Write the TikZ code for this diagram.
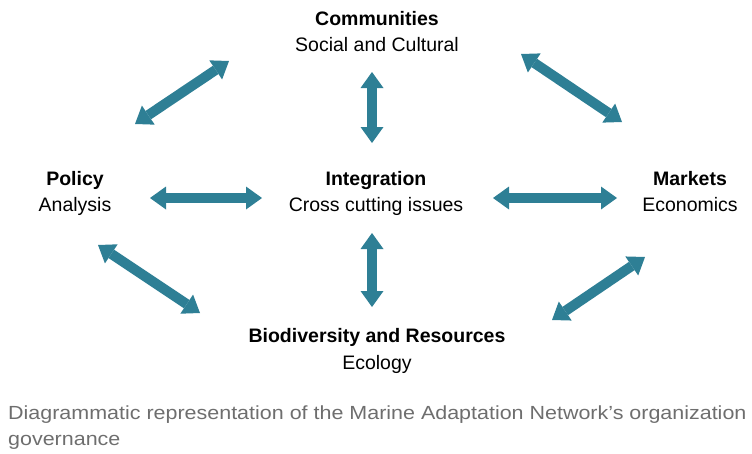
\documentclass[tikz,border=0pt]{standalone}
\usepackage{fontspec}
\setmainfont{Liberation Sans}
\newfontfamily\capfont[FakeStretch=1.13]{Liberation Sans}
\usetikzlibrary{arrows.meta}

\definecolor{arrowteal}{RGB}{46,127,149}
\definecolor{captiongray}{RGB}{110,110,110}

\tikzset{
	head/.style={anchor=base, font=\fontsize{19.5}{24}\selectfont\bfseries},
	sub/.style={anchor=base, font=\fontsize{19.5}{24}\selectfont},
	caption/.style={anchor=base west, text=captiongray, font=\capfont\fontsize{19}{24}\selectfont, inner sep=0pt},
	link/.style={draw=arrowteal, line width=10pt,
		{Triangle[length=16pt,width=23pt,line width=0pt]}-{Triangle[length=16pt,width=23pt,line width=0pt]}}
}

\begin{document}
\begin{tikzpicture}[x=1pt, y=-1pt]

	\useasboundingbox (0, 0) rectangle (752, 453);

	% labels
	\node[head] (comm) at (377, 25) {Communities};
	\node[sub] (commsub) at (377, 51) {Social and Cultural};

	\node[head] (policy) at (75, 185) {Policy};
	\node[sub] (policysub) at (75, 211) {Analysis};

	\node[head] (integ) at (376, 185) {Integration};
	\node[sub] (integsub) at (376, 211) {Cross cutting issues};

	\node[head] (markets) at (690, 185) {Markets};
	\node[sub] (marketssub) at (690, 211) {Economics};

	\node[head] (bio) at (377, 342) {Biodiversity and Resources};
	\node[sub] (biosub) at (377, 369) {Ecology};

	% arrows
	\coordinate (TL1) at (135, 124);
	\coordinate (TL2) at (229, 61);
	\coordinate (TV1) at (372, 72);
	\coordinate (TV2) at (372, 143);
	\coordinate (TR1) at (521, 54);
	\coordinate (TR2) at (622, 122);
	\coordinate (LH1) at (150, 198);
	\coordinate (LH2) at (262, 198);
	\coordinate (RH1) at (493, 198);
	\coordinate (RH2) at (617, 198);
	\coordinate (BV1) at (372, 233);
	\coordinate (BV2) at (372, 307);
	\coordinate (BL1) at (98, 245);
	\coordinate (BL2) at (200, 313);
	\coordinate (BR1) at (645, 257);
	\coordinate (BR2) at (552, 320);

	\draw[link] (TL1) -- (TL2);
	\draw[link] (TV1) -- (TV2);
	\draw[link] (TR1) -- (TR2);
	\draw[link] (LH1) -- (LH2);
	\draw[link] (RH1) -- (RH2);
	\draw[link] (BV1) -- (BV2);
	\draw[link] (BL1) -- (BL2);
	\draw[link] (BR1) -- (BR2);

	% caption
	\node[caption] (cap1) at (8, 419) {Diagrammatic representation of the Marine Adaptation Network’s organization};
	\node[caption] (cap2) at (8, 445) {governance};

\end{tikzpicture}
\end{document}
